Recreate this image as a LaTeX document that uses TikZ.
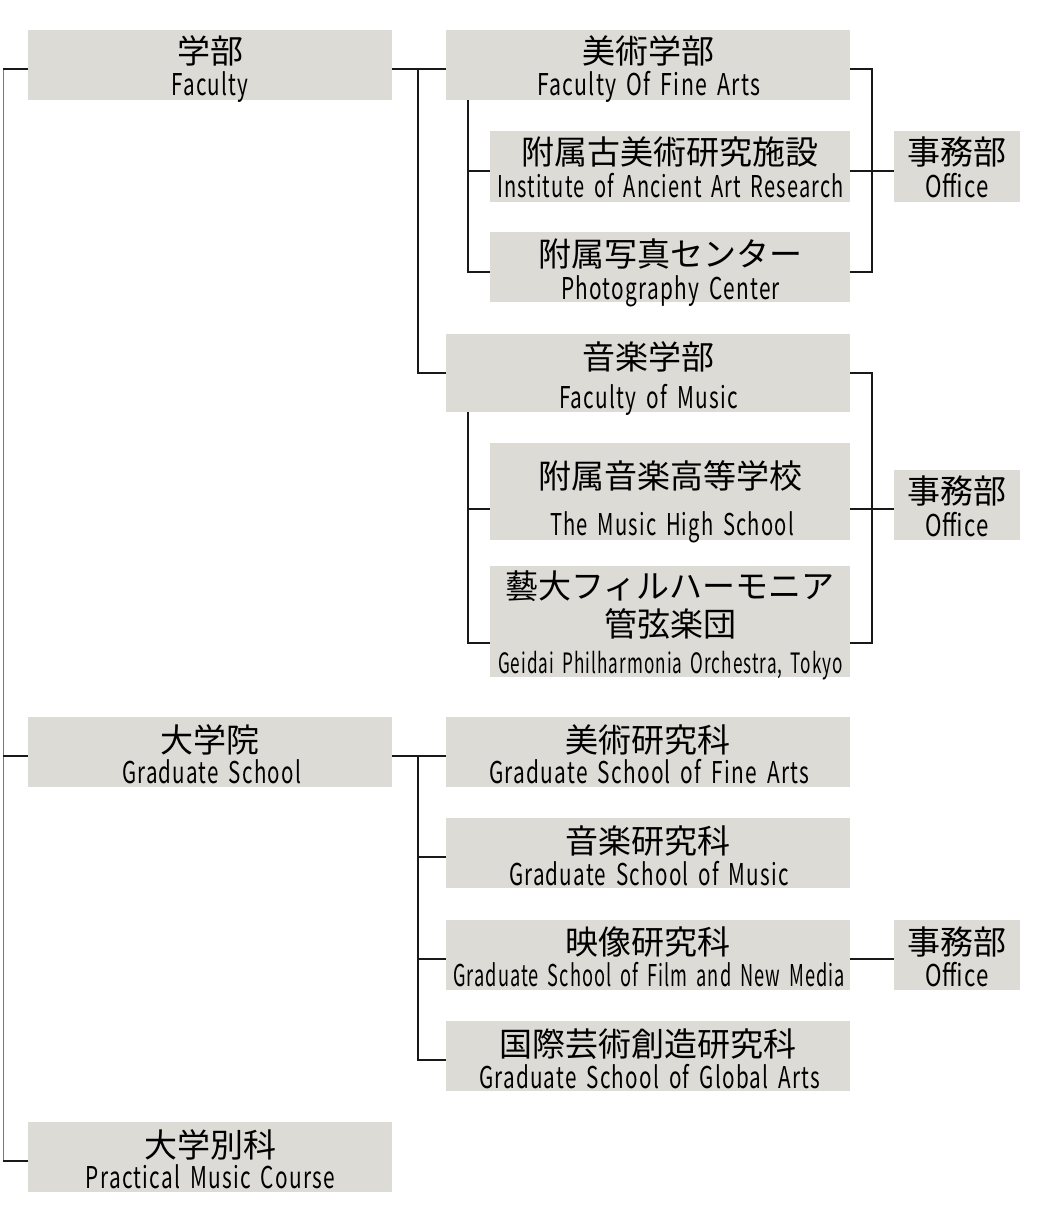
\documentclass[tikz,border=0pt]{standalone}
\usepackage{graphicx}
\usepackage{fontspec}
\setmainfont{Noto Sans CJK JP}
\newfontfamily\jpf{Noto Sans CJK JP}
\newfontfamily\enf{Noto Sans CJK JP}[LetterSpace=6,WordSpace=1.7]
\newcommand{\ew}[2]{\resizebox{#1pt}{\height}{#2}}
\definecolor{boxgray}{RGB}{220,219,214}
\definecolor{linegray}{RGB}{120,120,120}
\begin{document}
\begin{tikzpicture}[x=1pt,y=-1pt,
  box/.style={fill=boxgray, draw=none, inner sep=0pt, minimum width=#1},
  box/.default=404pt,
  jp/.style={font=\jpf\fontsize{33}{38}\selectfont, anchor=base, inner sep=0pt},
  en/.style={font=\enf\fontsize{30}{36}\selectfont, anchor=base, inner sep=0pt},
  ens/.style={font=\enf\fontsize{28}{33}\selectfont, anchor=base, inner sep=0pt},
  link/.style={draw=black!90, line width=1.8pt},
  spine/.style={draw=linegray, line width=1pt}]
\useasboundingbox (0,0) rectangle (1040,1214);
% boxes
\node[box=364pt, minimum height=70pt] (fac) at (210,65) {};
\node[box, minimum height=70pt] (fa) at (648,65) {};
\node[box=360pt, minimum height=71pt] (inst) at (670,166.5) {};
\node[box=360pt, minimum height=70pt] (photo) at (670,267) {};
\node[box=126pt, minimum height=71pt] (off1) at (957,166.5) {};
\node[box, minimum height=78pt] (mus) at (648,373) {};
\node[box=360pt, minimum height=97pt] (hs) at (670,491.5) {};
\node[box=126pt, minimum height=70pt] (off2) at (957,505) {};
\node[box=360pt, minimum height=111pt] (phil) at (670,621.5) {};
\node[box=364pt, minimum height=70pt] (grad) at (210,752) {};
\node[box, minimum height=70pt] (gfa) at (648,752) {};
\node[box, minimum height=70pt] (gmu) at (648,853) {};
\node[box, minimum height=70pt] (gfm) at (648,955) {};
\node[box=126pt, minimum height=70pt] (off3) at (957,955) {};
\node[box, minimum height=70pt] (gga) at (648,1056) {};
\node[box=364pt, minimum height=70pt] (prac) at (210,1157) {};
% texts
\node[jp] (facj) at (210,64) {学部};
\node[en] (face) at (210,96) {\ew{77}{Faculty}};
\node[jp] (faj) at (648,64) {美術学部};
\node[en] (fae) at (648.5,96) {\ew{223}{Faculty Of Fine Arts}};
\node[jp] (instj) at (670,165) {附属古美術研究施設};
\node[en] (inste) at (670.5,198) {\ew{347}{Institute of Ancient Art Research}};
\node[jp] (photoj) at (670,267) {附属写真センター};
\node[en] (photoe) at (670.5,299) {\ew{219}{Photography Center}};
\node[jp] (off1j) at (957,165) {事務部};
\node[en] (off1e) at (957,198) {\ew{64}{Office}};
\node[jp] (musj) at (648,369) {音楽学部};
\node[en] (muse) at (648.5,408) {\ew{179}{Faculty of Music}};
\node[jp] (hsj) at (670,488) {附属音楽高等学校};
\node[en] (hse) at (672,535) {\ew{244}{The Music High School}};
\node[jp] (off2j) at (957,503) {事務部};
\node[en] (off2e) at (957,536) {\ew{64}{Office}};
\node[jp] (philj) at (670,598) {藝大フィルハーモニア};
\node[jp] (philk) at (670,636) {管弦楽団};
\node[ens] (phile) at (670.5,673) {\ew{345}{Geidai Philharmonia Orchestra, Tokyo}};
\node[jp] (gradj) at (210,752) {大学院};
\node[en] (grade) at (211.5,783) {\ew{179}{Graduate School}};
\node[jp] (gfaj) at (648,752) {美術研究科};
\node[en] (gfae) at (649,783) {\ew{320}{Graduate School of Fine Arts}};
\node[jp] (gmuj) at (648,853) {音楽研究科};
\node[en] (gmue) at (649,885) {\ew{280}{Graduate School of Music}};
\node[jp] (gfmj) at (648,954) {映像研究科};
\node[en] (gfme) at (649,986) {\ew{392}{Graduate School of Film and New Media}};
\node[jp] (off3j) at (957,954) {事務部};
\node[en] (off3e) at (957,986) {\ew{64}{Office}};
\node[jp] (ggaj) at (648,1056) {国際芸術創造研究科};
\node[en] (ggae) at (649.5,1088) {\ew{341}{Graduate School of Global Arts}};
\node[jp] (pracj) at (210,1157) {大学別科};
\node[en] (prace) at (210.5,1188) {\ew{249}{Practical Music Course}};
% spine
\coordinate (spT) at (3,69);
\coordinate (spB) at (3,1161);
\draw[spine] (spT) -- (spB);
\draw[link] (spT) -- ([yshift=-4pt]fac.west);
\draw[link] ([yshift=-4pt]grad.west) -- ++(-25,0);
\draw[link] ([yshift=-4pt]prac.west) -- ++(-25,0);
% faculty
\draw[link] ([yshift=-4pt]fac.east) -- ([yshift=-4pt]fa.west);
\draw[link] ([yshift=-4pt]fac.east) ++(26,0) |- (mus.west);
% fine arts
\draw[link] ([xshift=22pt]fa.south west) |- ([yshift=-4.5pt]inst.west);
\draw[link] ([xshift=22pt]fa.south west) |- ([yshift=-5pt]photo.west);
\draw[link] ([yshift=-4pt]fa.east) -- ++(22,0) |- ([yshift=-5pt]photo.east);
\draw[link] ([yshift=-4.5pt]inst.east) -- ([yshift=-4.5pt]off1.west);
% music
\draw[link] ([xshift=22pt]mus.south west) |- ([yshift=-17.5pt]hs.west);
\draw[link] ([xshift=22pt]mus.south west) |- ([yshift=-21.5pt]phil.west);
\draw[link] (mus.east) -- ++(22,0) |- ([yshift=-21.5pt]phil.east);
\draw[link] ([yshift=-17.5pt]hs.east) -- ([yshift=-4pt]off2.west);
% graduate
\draw[link] ([yshift=-4pt]grad.east) -- ([yshift=-4pt]gfa.west);
\draw[link] ([yshift=-4pt]grad.east) ++(26,0) |- ([yshift=-4pt]gga.west);
\draw[link] ([yshift=-4pt]gmu.west) -- ++(-28,0);
\draw[link] ([yshift=-4pt]gfm.west) -- ++(-28,0);
\draw[link] ([yshift=-4pt]gfm.east) -- ([yshift=-4pt]off3.west);
\end{tikzpicture}
\end{document}
